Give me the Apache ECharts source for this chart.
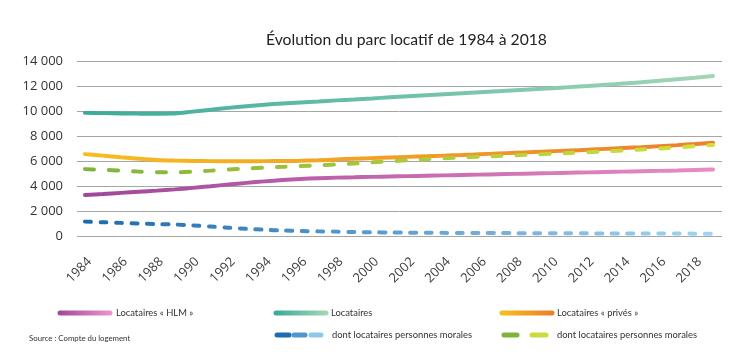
<!DOCTYPE html>
<html><head><meta charset="utf-8">
<script src="https://cdn.jsdelivr.net/npm/echarts@6/dist/echarts.min.js"></script>
<style>html,body{margin:0;padding:0;background:#fff}#c{width:750px;height:354px}</style>
</head><body><div id="c"></div>
<script>
const years = ['1984','1985','1986','1987','1988','1989','1990','1991','1992','1993','1994','1995','1996','1997','1998','1999','2000','2001','2002','2003','2004','2005','2006','2007','2008','2009','2010','2011','2012','2013','2014','2015','2016','2017','2018','2019'];
const yTicks = [0, 2000, 4000, 6000, 8000, 10000, 12000, 14000];
const locataires = [9850,9830,9800,9790,9790,9800,9950,10100,10250,10380,10500,10600,10680,10760,10850,10920,11000,11100,11180,11260,11340,11420,11500,11580,11660,11740,11820,11910,12000,12100,12200,12300,12420,12540,12660,12800];
const prives = [6550,6430,6300,6180,6080,6030,6000,5990,5980,5980,5990,6000,6020,6060,6120,6180,6230,6280,6330,6380,6430,6480,6540,6600,6660,6720,6780,6840,6900,6970,7040,7110,7190,7270,7360,7460];
const privesMorales = [5350,5300,5230,5150,5100,5100,5150,5230,5320,5400,5470,5530,5590,5650,5720,5800,5890,5980,6060,6140,6220,6280,6340,6400,6460,6520,6580,6640,6700,6770,6840,6920,7000,7090,7180,7280];
const hlm = [3280,3360,3450,3540,3630,3730,3850,3980,4120,4250,4370,4480,4560,4620,4670,4700,4730,4760,4790,4820,4850,4880,4910,4940,4970,5000,5030,5060,5090,5120,5150,5180,5210,5240,5280,5320];
const hlmMorales = [1150,1100,1050,1000,960,920,850,760,660,570,500,440,400,370,350,320,300,280,270,260,250,245,240,235,230,225,220,215,210,205,200,200,195,195,190,190];

const chart = echarts.init(document.getElementById('c'), null, {renderer: 'canvas'});
const G = echarts.graphic.LinearGradient;
function grad(a, b) { return new G(0, 0, 1, 0, [{offset: 0, color: a}, {offset: 1, color: b}]); }
function ggrad(x1, x2, a, b) { return new G(x1, 0, x2, 0, [{offset: 0, color: a}, {offset: 1, color: b}], true); }
const FONT = 'Open Sans';
const LFONT = 'Lato';
const txtC = '#333';

function lineSeries(name, data, c1, c2, dash) {
  return {
    name: name, type: 'line', data: data, xAxisIndex: 1, yAxisIndex: 1,
    showSymbol: false, smooth: 0.3, animation: false,
    lineStyle: { width: 4, color: grad(c1, c2), type: dash || 'solid', cap: 'round' }
  };
}

const legendY1 = 313, legendY2 = 335;
function legLine(x1, x2, y, stroke) {
  return { type: 'line', shape: {x1: x1, y1: y, x2: x2, y2: y}, style: {stroke: stroke, lineWidth: 5, lineCap: 'round'} };
}
function legText(x, y, t, size) {
  return { type: 'text', x: x, y: y, style: {text: t, fill: txtC, font: (size || 9.4) + 'px "' + LFONT + '"', verticalAlign: 'middle', align: 'left'} };
}

chart.setOption({
  animation: false,
  title: {
    text: 'Évolution du parc locatif de 1984 à 2018', left: 261, top: 27,
    textStyle: { fontFamily: 'Lato', fontSize: 15.7, fontWeight: 'normal', color: '#222' }
  },
  grid: [
    { left: 77, right: 28, top: 61, bottom: 118 },
    { left: 85, right: 37, top: 61, bottom: 118 }
  ],
  xAxis: [
    { gridIndex: 0, type: 'category', data: years, show: false },
    { gridIndex: 1, type: 'category', data: years, boundaryGap: false,
      axisLine: {show: false}, axisTick: {show: false},
      axisLabel: { interval: 1, rotate: 45, margin: 19, verticalAlign: 'top', color: '#404040', fontSize: 13, fontFamily: FONT } }
  ],
  yAxis: [
    { gridIndex: 0, type: 'value', min: yTicks[0], max: yTicks[yTicks.length - 1], interval: 2000,
      axisLine: {show: false}, axisTick: {show: false},
      splitLine: { lineStyle: { color: '#a6a6a6', width: 1 } },
      axisLabel: { margin: 14, color: '#333', fontSize: 13, fontFamily: FONT,
        formatter: v => String(v).replace(/\B(?=(\d{3})+(?!\d))/g, ' ') } },
    { gridIndex: 1, type: 'value', min: yTicks[0], max: yTicks[yTicks.length - 1], interval: 2000, show: false }
  ],
  series: [
    lineSeries('Locataires', locataires, '#3aab9b', '#a3d6b6'),
    lineSeries('Locataires « privés »', prives, '#f7bd1e', '#ec7f2c'),
    lineSeries('dont locataires personnes morales', privesMorales, '#80b33c', '#d4df3c', [9, 15]),
    lineSeries('Locataires « HLM »', hlm, '#9f4699', '#ea8cc4'),
    lineSeries('dont locataires personnes morales', hlmMorales, '#1a6bb0', '#a3d5f2', [6, 9.5])
  ],
  graphic: [
    legLine(60, 110, legendY1, ggrad(60, 110, '#a4489c', '#ec92c6')),
    legText(116, legendY1, 'Locataires « HLM »'),
    legLine(276, 326, legendY1, ggrad(276, 326, '#3aab9b', '#a3d6b6')),
    legText(331, legendY1, 'Locataires'),
    legLine(502, 552, legendY1, ggrad(502, 552, '#f7bd1e', '#ec7f2c')),
    legText(557, legendY1, 'Locataires « privés »'),
    legLine(277, 289, legendY2, '#1c6db2'),
    legLine(294, 305, legendY2, '#4a97d2'),
    legLine(311, 321, legendY2, '#8ec8ec'),
    legText(332, legendY2, 'dont locataires personnes morales'),
    legLine(504, 517, legendY2, '#80b33c'),
    legLine(532, 546, legendY2, '#c9db3e'),
    legText(557, legendY2, 'dont locataires personnes morales'),
    legText(29, 338, 'Source : Compte du logement', 7.8)
  ]
});
</script>
</body></html>
